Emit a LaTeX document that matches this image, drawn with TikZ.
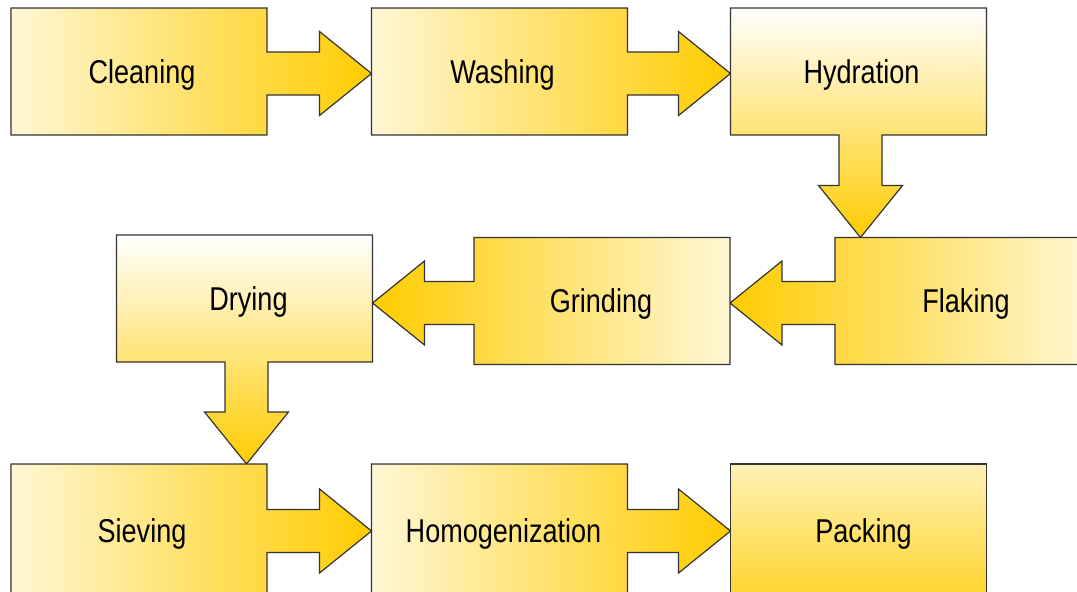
\documentclass[tikz,border=0pt]{standalone}
\usepackage{fontspec}
\newfontfamily\narrowsans[FakeStretch=0.82]{Liberation Sans}
\usetikzlibrary{calc}
\definecolor{gold}{HTML}{FFCC00}
\definecolor{pale}{HTML}{FFF7D6}
\definecolor{edgegray}{HTML}{333333}
\newcommand\flowR[3]{%
  \draw[#3] (#1.north west) -- (#1.north east) -- ($(#1.east |- #2)+(0,21.5)$)
    -- ($(#2)+(-52,21.5)$) -- ($(#2)+(-52,42)$) -- (#2) -- ($(#2)+(-52,-42)$)
    -- ($(#2)+(-52,-21.5)$) -- ($(#1.east |- #2)+(0,-21.5)$) -- (#1.south east)
    -- (#1.south west) -- cycle;}
\newcommand\flowL[3]{%
  \draw[#3] (#1.north east) -- (#1.north west) -- ($(#1.west |- #2)+(0,21.5)$)
    -- ($(#2)+(52,21.5)$) -- ($(#2)+(52,42)$) -- (#2) -- ($(#2)+(52,-42)$)
    -- ($(#2)+(52,-21.5)$) -- ($(#1.west |- #2)+(0,-21.5)$) -- (#1.south west)
    -- (#1.south east) -- cycle;}
\newcommand\flowD[3]{%
  \draw[#3] (#1.north west) -- (#1.north east) -- (#1.south east)
    -- ($(#1.south -| #2)+(21.5,0)$) -- ($(#2)+(21.5,52)$) -- ($(#2)+(42,52)$)
    -- (#2) -- ($(#2)+(-42,52)$) -- ($(#2)+(-21.5,52)$)
    -- ($(#1.south -| #2)+(-21.5,0)$) -- (#1.south west) -- cycle;}
\begin{document}
\begin{tikzpicture}[x=1pt,y=1pt,
  stage/.style={rectangle, minimum width=256pt, minimum height=127pt,
    inner sep=0pt, outer sep=0pt},
  cutstage/.style={stage, minimum height=131pt},
  stagetext/.style={anchor=base, inner sep=0pt,
    font=\narrowsans\fontsize{33}{40}\selectfont, text=black},
  flowshape/.style={draw=edgegray, line width=1.2pt, line join=miter},
  hflow/.style={flowshape, left color=pale, right color=gold},
  rflow/.style={flowshape, left color=gold, right color=pale},
  vflow/.style={flowshape, top color=white, bottom color=gold},
  pflow/.style={flowshape, top color=gold!28!white, bottom color=gold!82!white}]
\useasboundingbox (0,0) rectangle (1077,-592);
% stage boxes
\node[stage] (clean) at (139,-71.5) {};
\node[stage] (wash)  at (499.5,-71.5) {};
\node[stage] (hyd)   at (858.5,-71.5) {};
\node[stage] (flak)  at (963,-301) {};
\node[stage] (grind) at (602,-301) {};
\node[stage] (dry)   at (244.5,-298.5) {};
\node[cutstage] (sieve) at (139,-529.5) {};
\node[cutstage] (homog) at (499.5,-529.5) {};
\node[cutstage] (pack)  at (858.5,-529.5) {};
% arrow tips
\coordinate (t1) at ($(wash.west)+(0,-2)$);
\coordinate (t2) at ($(hyd.west)+(0,-2)$);
\coordinate (t3) at ($(hyd.south |- flak.north)+(2,0)$);
\coordinate (t4) at ($(grind.east)+(0,-2)$);
\coordinate (t5) at ($(dry.east |- grind.west)+(0,-2)$);
\coordinate (t6) at ($(dry.south |- sieve.north)+(2,0)$);
\coordinate (t7) at ($(homog.west)+(0,-1.5)$);
\coordinate (t8) at ($(pack.west)+(0,-1.5)$);
% shapes
\flowR{clean}{t1}{hflow}
\flowR{wash}{t2}{hflow}
\flowD{hyd}{t3}{vflow}
\flowL{flak}{t4}{rflow}
\flowL{grind}{t5}{rflow}
\flowD{dry}{t6}{vflow}
\flowR{sieve}{t7}{hflow}
\flowR{homog}{t8}{hflow}
\draw[pflow] (pack.north west) rectangle (pack.south east);
% labels
\node[stagetext] (cleanT) at ($(clean.center)+(3,-11.8)$) {Cleaning};
\node[stagetext] (washT)  at ($(wash.center)+(3,-11.8)$) {Washing};
\node[stagetext] (hydT)   at ($(hyd.center)+(3,-11.8)$) {Hydration};
\node[stagetext] (flakT)  at ($(flak.center)+(3,-11.8)$) {Flaking};
\node[stagetext] (grindT) at ($(grind.center)+(-1,-11.8)$) {Grinding};
\node[stagetext] (dryT)   at ($(dry.center)+(4,-11.8)$) {Drying};
\node[stagetext] (sieveT) at ($(sieve.center)+(3,-13.3)$) {Sieving};
\node[stagetext] (homogT) at ($(homog.center)+(4,-13.3)$) {Homogenization};
\node[stagetext] (packT)  at ($(pack.center)+(5,-13.3)$) {Packing};
\end{tikzpicture}
\end{document}
